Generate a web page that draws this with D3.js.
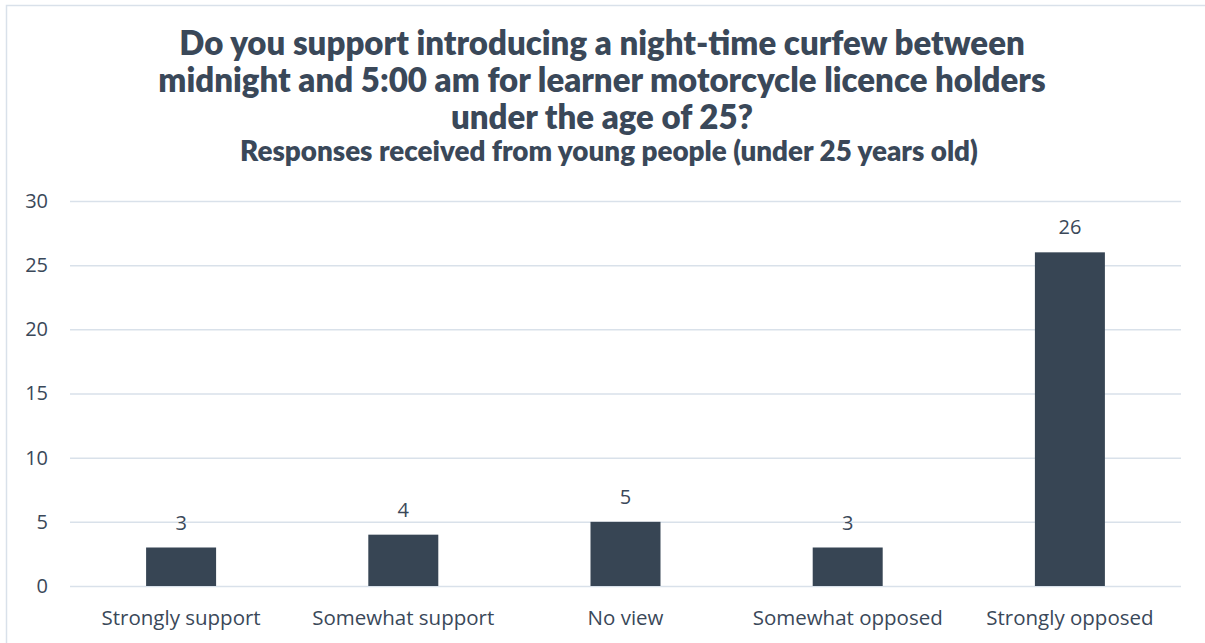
<!DOCTYPE html>
<html>
<head>
<meta charset="utf-8">
<script src="https://cdn.jsdelivr.net/npm/d3@7"></script>
<style>
  html, body { margin: 0; padding: 0; background: #fff; }
  svg { display: block; }
</style>
</head>
<body>
<svg id="chart" width="1205" height="643"></svg>
<script>
// Survey responses
const categories = ["Strongly support", "Somewhat support", "No view", "Somewhat opposed", "Strongly opposed"];
const responses = [3, 4, 5, 3, 26];
const yTicks = [0, 5, 10, 15, 20, 25, 30];
const titleLines = [
  "Do you support introducing a night-time curfew between",
  "midnight and 5:00 am for learner motorcycle licence holders",
  "under the age of 25?"
];
const subtitle = "Responses received from young people (under 25 years old)";

const W = 1205, H = 643;
const margin = { top: 201, right: 24, bottom: 57, left: 70 };
const textColor = "#3a4859";
const barColor = "#374554";
const gridColor = "#d9e1ea";
const labelFont = "'Open Sans', sans-serif";
const titleFont = "Lato, 'Open Sans', sans-serif";

const svg = d3.select("#chart");

// Outer frame (open to the right and bottom edges)
svg.append("rect")
  .attr("x", 6.5).attr("y", 5.5)
  .attr("width", W + 10).attr("height", H + 10)
  .attr("fill", "#fff")
  .attr("stroke", gridColor).attr("stroke-width", 1.5);

// Title block
const titleG = svg.append("g").attr("text-anchor", "middle").attr("fill", textColor);
titleG.selectAll("text.title")
  .data(titleLines)
  .join("text")
  .attr("class", "title")
  .attr("x", 602)
  .attr("y", (d, i) => 55 + i * 37)
  .style("font-family", titleFont)
  .style("font-weight", "800")
  .style("font-size", "33px")
  .text(d => d);

titleG.append("text")
  .attr("x", 609)
  .attr("y", 161)
  .style("font-family", titleFont)
  .style("font-weight", "800")
  .style("font-size", "27.8px")
  .text(subtitle);

const x = d3.scaleBand()
  .domain(categories)
  .range([margin.left, W - margin.right])
  .paddingInner(0.685)
  .paddingOuter(0.3425);

const y = d3.scaleLinear()
  .domain([0, 30])
  .range([H - margin.bottom, margin.top]);

// Horizontal gridlines with value labels
const yAxis = d3.axisLeft(y)
  .tickValues(yTicks)
  .tickSize(-(W - margin.right - margin.left))
  .tickPadding(22);

const yg = svg.append("g")
  .attr("transform", `translate(${margin.left},0)`)
  .call(yAxis);
yg.select(".domain").remove();
yg.selectAll(".tick line").attr("stroke", gridColor).attr("stroke-width", 1.5);
yg.selectAll(".tick text")
  .attr("fill", textColor)
  .style("font-family", labelFont)
  .style("font-size", "20px");

// Category axis
const xAxis = d3.axisBottom(x).tickSize(0).tickPadding(24);
const xg = svg.append("g")
  .attr("transform", `translate(0,${H - margin.bottom})`)
  .call(xAxis);
xg.select(".domain").remove();
xg.selectAll(".tick text")
  .attr("fill", textColor)
  .style("font-family", labelFont)
  .style("font-size", "20.5px");

// Bars
const rows = categories.map((c, i) => ({ c, v: responses[i] }));
svg.append("g")
  .selectAll("rect")
  .data(rows)
  .join("rect")
  .attr("x", d => x(d.c))
  .attr("y", d => y(d.v))
  .attr("width", x.bandwidth())
  .attr("height", d => y(0) - y(d.v))
  .attr("fill", barColor);

// Value labels
svg.append("g")
  .attr("text-anchor", "middle")
  .selectAll("text")
  .data(rows)
  .join("text")
  .attr("x", d => x(d.c) + x.bandwidth() / 2)
  .attr("y", d => y(d.v) - 18)
  .attr("fill", textColor)
  .style("font-family", labelFont)
  .style("font-size", "20px")
  .text(d => d.v);
</script>
</body>
</html>
